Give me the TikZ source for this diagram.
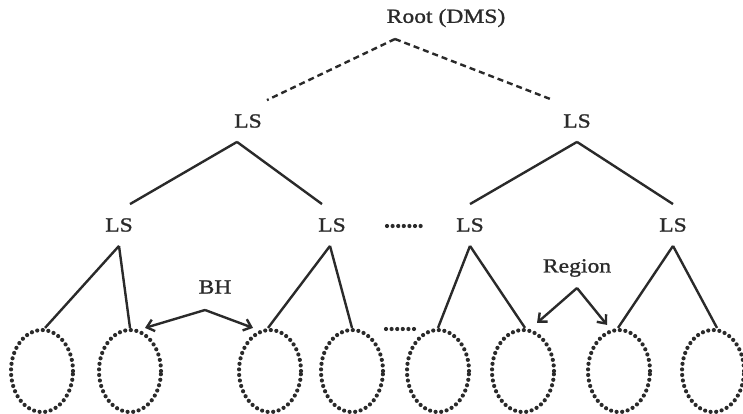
\documentclass[tikz,border=0pt]{standalone}
\usepackage{fontspec}
\setmainfont[FakeStretch=1.18,FakeBold=1.2]{Liberation Serif}
\usetikzlibrary{shapes.geometric,arrows.meta}
\definecolor{ink}{HTML}{2A2A2A}

\begin{document}
\begin{tikzpicture}[x=1pt,y=-1pt,
  lbl/.style={font=\fontsize{20}{22}\selectfont, text=ink, inner sep=0pt},
  server/.style={lbl, inner xsep=2pt, inner ysep=14pt},
  region/.style={ellipse, draw=ink, minimum width=62pt, minimum height=82pt,
    inner sep=0pt, line width=4.2pt, line cap=round, dash pattern=on 0pt off 5.6pt},
  link/.style={draw=ink, line width=2.4pt},
  vlink/.style={link, dash pattern=on 6pt off 4pt},
  arr/.style={link, -{Straight Barb[length=7pt,width=12pt,line width=2.4pt]}},
  dotrow/.style={draw=ink, line width=4.2pt, line cap=round, dash pattern=on 0pt off 5.6pt},
]
\useasboundingbox (0,0) rectangle (743,414);

% root and local servers
\node[lbl] (root) at (446,18) {Root (DMS)};
\coordinate (root-a) at (395,39);
\node[server] (lsL) at (248,121) {LS};
\node[server] (lsR) at (577,121) {LS};
\node[server] (ls1) at (119,225) {LS};
\node[server] (ls2) at (332,225) {LS};
\node[server] (ls3) at (470,225) {LS};
\node[server] (ls4) at (673,225) {LS};

% regions
\foreach \i/\x in {1/42,2/130,3/270,4/352,5/438,6/523,7/619,8/713}
  \node[region] (e\i) at (\x,371) {};

% virtual links from the root
\draw[vlink] (root-a) -- ([xshift=19pt]lsL.north);
\draw[vlink] (root-a) -- ([xshift=-24pt]lsR.north);

% tree links
\draw[link] ([xshift=-11pt]lsL.south) -- ([xshift=11pt]ls1.north);
\draw[link] ([xshift=-11pt]lsL.south) -- ([xshift=-10pt]ls2.north);
\draw[link] (lsR.south) -- (ls3.north);
\draw[link] (lsR.south) -- (ls4.north);

\draw[link] (ls1.south) -- ([xshift=3pt]e1.north);
\draw[link] (ls1.south) -- (e2.north);
\draw[link] ([xshift=-2pt]ls2.south) -- ([xshift=-2pt]e3.north);
\draw[link] ([xshift=-2pt]ls2.south) -- (e4.north);
\draw[link] (ls3.south) -- (e5.north);
\draw[link] (ls3.south) -- ([xshift=2pt]e6.north);
\draw[link] (ls4.south) -- ([xshift=-1pt]e7.north);
\draw[link] (ls4.south) -- ([xshift=4pt]e8.north);

% ellipsis marks
\draw[dotrow] (387,226) -- (424,226);
\draw[dotrow] (386,329) -- (416,329);

% BH and Region annotations
\node[lbl] (bh) at (215,287) {BH};
\coordinate (bh-a) at (205,310);
\draw[arr] (bh-a) -- ([xshift=15pt]e2.north);
\draw[arr] (bh-a) -- ([xshift=-17pt]e3.north);

\node[lbl] (reg) at (577,268) {Region};
\coordinate (reg-a) at (577,288);
\draw[arr] (reg-a) -- ([xshift=14pt,yshift=5pt]e6.north);
\draw[arr] (reg-a) -- ([xshift=-12pt,yshift=3pt]e7.north);
\end{tikzpicture}
\end{document}
